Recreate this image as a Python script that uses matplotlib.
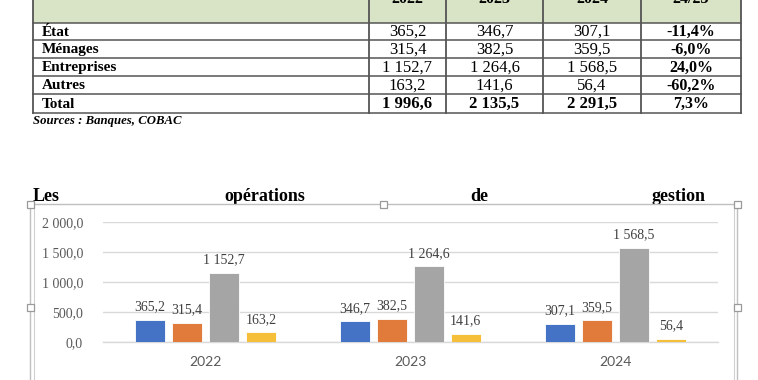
import matplotlib
matplotlib.use("Agg")
import matplotlib.pyplot as plt
from matplotlib.patches import Rectangle

# ---------------- data ----------------
years = ["2022", "2023", "2024"]
header_last = "24/23"
sectors = ["État", "Ménages", "Entreprises", "Autres"]
etat = [365.2, 346.7, 307.1]
menages = [315.4, 382.5, 359.5]
entreprises = [1152.7, 1264.6, 1568.5]
autres = [163.2, 141.6, 56.4]
totals = [1996.6, 2135.5, 2291.5]
variations = ["-11,4%", "-6,0%", "24,0%", "-60,2%", "7,3%"]
yticks = [0, 500, 1000, 1500, 2000]
source_text = "Sources : Banques, COBAC"
title_words = ["Les", "opérations", "de", "gestion"]

series = [etat, menages, entreprises, autres]
colors = ["#4472C4", "#E07B3C", "#A5A5A5", "#F5BF3A"]


def fmt(v):
    return f"{v:,.1f}".replace(",", " ").replace(".", ",")


SERIF = ["Liberation Serif", "DejaVu Serif"]
W, H = 758, 380
fig = plt.figure(figsize=(W / 100, H / 100), dpi=100)
bg = fig.add_axes([0, 0, 1, 1])
bg.set_xlim(0, W)
bg.set_ylim(H, 0)
bg.axis("off")

# ---------------- table ----------------
col_edges = [33, 369, 446, 543, 641, 741]
row_edges = [23, 40, 58, 76, 94, 113]
line_c = "#555555"
bg.add_patch(Rectangle((33, -5), 741 - 33, 28, facecolor="#D9E4C6", edgecolor="none", zorder=1))
for x in col_edges:
    bg.plot([x, x], [-5, row_edges[-1]], color=line_c, lw=1.3, zorder=3)
for y in row_edges:
    bg.plot([33, 741], [y, y], color=line_c, lw=1.1, zorder=3)

headers = years + [header_last]
for i, h in enumerate(headers):
    cx = (col_edges[i + 1] + col_edges[i + 2]) / 2
    bg.text(cx, -1.0, h, ha="center", va="center", fontsize=11.5, fontweight="bold",
            family=SERIF, zorder=4)

row_labels = sectors + ["Total"]
row_vals = [etat, menages, entreprises, autres]
for r, lab in enumerate(row_labels):
    cy = (row_edges[r] + row_edges[r + 1]) / 2 + 0.5
    bg.text(42, cy, lab, ha="left", va="center", fontsize=11, fontweight="bold",
            family=SERIF, zorder=4)
    for c in range(3):
        if r < 4:
            v = row_vals[r][c]
            wt = "normal"
        else:
            v = totals[c]
            wt = "bold"
        cx = (col_edges[c + 1] + col_edges[c + 2]) / 2
        bg.text(cx, cy, fmt(v), ha="center", va="center", fontsize=12, fontweight=wt,
                family=SERIF, zorder=4)
    cx = (col_edges[4] + col_edges[5]) / 2
    bg.text(cx, cy, variations[r], ha="center", va="center", fontsize=11.5, fontweight="bold",
            family=SERIF, zorder=4)

bg.text(33, 121, source_text, ha="left", va="center", fontsize=9.2, fontweight="bold",
        fontstyle="italic", family=SERIF, zorder=4)

# ---------------- justified title ----------------
title_x = [33, 224, 470, 652]
for wx, wd in zip(title_x, title_words):
    bg.text(wx, 201, wd, ha="left", va="baseline", fontsize=13, fontweight="bold",
            family=SERIF, zorder=2)

# ---------------- chart frame ----------------
bg.add_patch(Rectangle((30, 204), 737 - 30, H - 204 + 5, facecolor="white",
                       edgecolor="#BFBFBF", lw=1.0, zorder=5))
bg.plot([33.5, 33.5], [207, H + 5], color="#D0D0D0", lw=0.8, zorder=6)
bg.plot([733.5, 733.5], [207, H + 5], color="#D0D0D0", lw=0.8, zorder=6)
for hx, hy in [(30, 204), (383, 204), (737, 204), (30, 307), (737, 307)]:
    bg.add_patch(Rectangle((hx - 3.5, hy - 3.5), 7, 7, facecolor="white",
                           edgecolor="#9A9A9A", lw=0.9, zorder=7))

# ---------------- bar chart ----------------
ax_left, ax_right = 103, 718
y0_px, y2000_px = 342, 222
ax = fig.add_axes([ax_left / W, (H - y0_px) / H, (ax_right - ax_left) / W,
                   (y0_px - y2000_px) / H])
ax.set_zorder(10)
ax.patch.set_alpha(0)
ax.set_xlim(-0.5, len(years) - 0.5)
ax.set_ylim(0, 2000)

bw = 0.143
step = 0.18
for i, (vals, col) in enumerate(zip(series, colors)):
    xs = [k + (i - 1.5) * step for k in range(len(years))]
    ax.bar(xs, vals, width=bw, color=col, edgecolor="white", linewidth=0.6, zorder=3)
    for x, v in zip(xs, vals):
        ax.annotate(fmt(v), (x, v), xytext=(0, 9.3), textcoords="offset points",
                    ha="center", va="center", fontsize=10, color="#404040",
                    family=SERIF, annotation_clip=False)

ax.set_yticks(yticks)
ax.set_yticklabels([fmt(t) for t in yticks], family=SERIF, fontsize=10, color="#595959")
ax.set_xticks(range(len(years)))
ax.set_xticklabels(years, family=["Lato", "DejaVu Sans"], fontsize=10, color="#595959")
ax.tick_params(axis="y", length=0, pad=14.4)
ax.tick_params(axis="x", length=0, pad=10)
ax.grid(axis="y", color="#D9D9D9", lw=1.0, zorder=0)
for s in ["top", "right", "left"]:
    ax.spines[s].set_visible(False)
ax.spines["bottom"].set_color("#D9D9D9")
ax.spines["bottom"].set_linewidth(1.0)

fig.savefig("out.png", dpi=100)
